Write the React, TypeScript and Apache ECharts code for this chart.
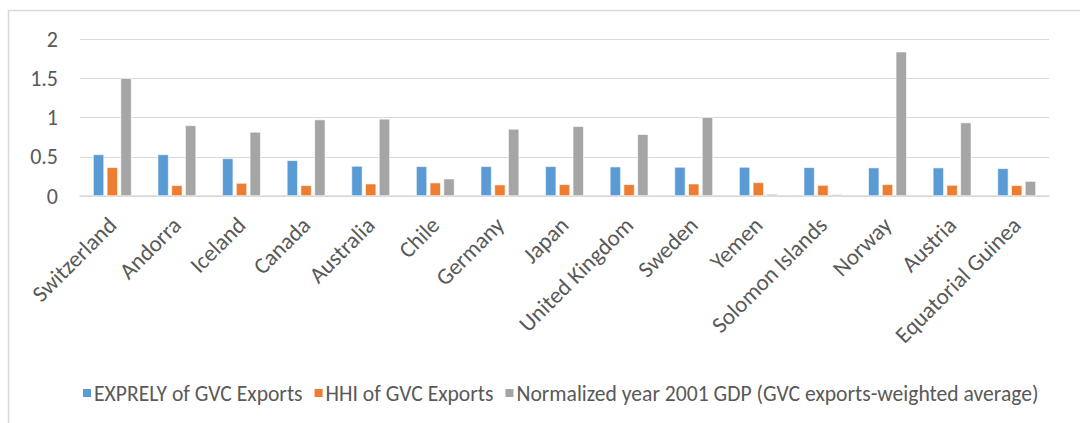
import React, { useEffect, useRef } from "react";
import * as echarts from "echarts";

const countries = [
  "Switzerland", "Andorra", "Iceland", "Canada", "Australia", "Chile", "Germany",
  "Japan", "United Kingdom", "Sweden", "Yemen", "Solomon Islands", "Norway", "Austria",
  "Equatorial Guinea",
];
const exprely = [0.53, 0.53, 0.48, 0.455, 0.383, 0.379, 0.379, 0.379, 0.374, 0.37, 0.37, 0.366, 0.362, 0.362, 0.353];
const hhi = [0.366, 0.136, 0.166, 0.136, 0.157, 0.17, 0.145, 0.149, 0.149, 0.157, 0.174, 0.14, 0.149, 0.14, 0.136];
const gdp = [1.5, 0.9, 0.817, 0.974, 0.983, 0.221, 0.855, 0.889, 0.787, 1.004, 0.026, 0.022, 1.838, 0.936, 0.19];
const seriesNames = [
  "EXPRELY of GVC Exports",
  "HHI of GVC Exports",
  "Normalized year 2001 GDP (GVC exports-weighted average)",
];
const yTicks = { min: 0, max: 2, interval: 0.5 };

const FONT = "Carlito, Calibri, 'Open Sans', sans-serif";
const TXT = "#595959";

export default function App() {
  const ref = useRef<HTMLDivElement>(null);
  useEffect(() => {
    if (!ref.current) return;
    const chart = echarts.init(ref.current, null, { renderer: "svg" });
    const mk = (name: string, data: number[], color: string) => ({
      name,
      type: "bar",
      data,
      barWidth: 11,
      barGap: "25%",
      itemStyle: { color, borderColor: "#ffffff", borderWidth: 0.6 },
    });
    chart.setOption({
      animation: false,
      textStyle: { fontFamily: FONT },
      graphic: [
        {
          type: "rect",
          shape: { x: 8.5, y: 10.5, width: 1200, height: 600 },
          style: { fill: "none", stroke: "#d9d9d9", lineWidth: 1.5 },
          silent: true,
        },
      ],
      grid: { left: 80, right: 31, top: 39, bottom: 227, containLabel: false },
      legend: {
        top: 377,
        left: 76,
        itemWidth: 10,
        itemHeight: 10,
        itemGap: 10,
        icon: "rect",
        textStyle: { fontFamily: FONT, fontSize: 21.6, color: TXT, padding: [0, 0, 0, -3] },
        data: seriesNames,
      },
      xAxis: {
        type: "category",
        data: countries,
        axisLine: { lineStyle: { color: "#d9d9d9", width: 1.5 } },
        axisTick: { show: false },
        axisLabel: {
          rotate: 45,
          interval: 0,
          fontSize: 23,
          color: TXT,
          fontFamily: FONT,
          margin: 25,
        },
      },
      yAxis: {
        type: "value",
        min: yTicks.min,
        max: yTicks.max,
        interval: yTicks.interval,
        axisLine: { show: false },
        axisTick: { show: false },
        axisLabel: { fontSize: 22, color: TXT, fontFamily: FONT, margin: 22 },
        splitLine: { lineStyle: { color: "#d9d9d9", width: 1.2 } },
      },
      series: [
        mk(seriesNames[0], exprely, "#5b9bd5"),
        mk(seriesNames[1], hhi, "#ed7d31"),
        mk(seriesNames[2], gdp, "#a5a5a5"),
      ],
    });
    return () => chart.dispose();
  }, []);
  return (
    <div
      ref={ref}
      style={{ position: "fixed", left: 0, top: 0, width: 1080, height: 423, background: "#fff" }}
    />
  );
}
